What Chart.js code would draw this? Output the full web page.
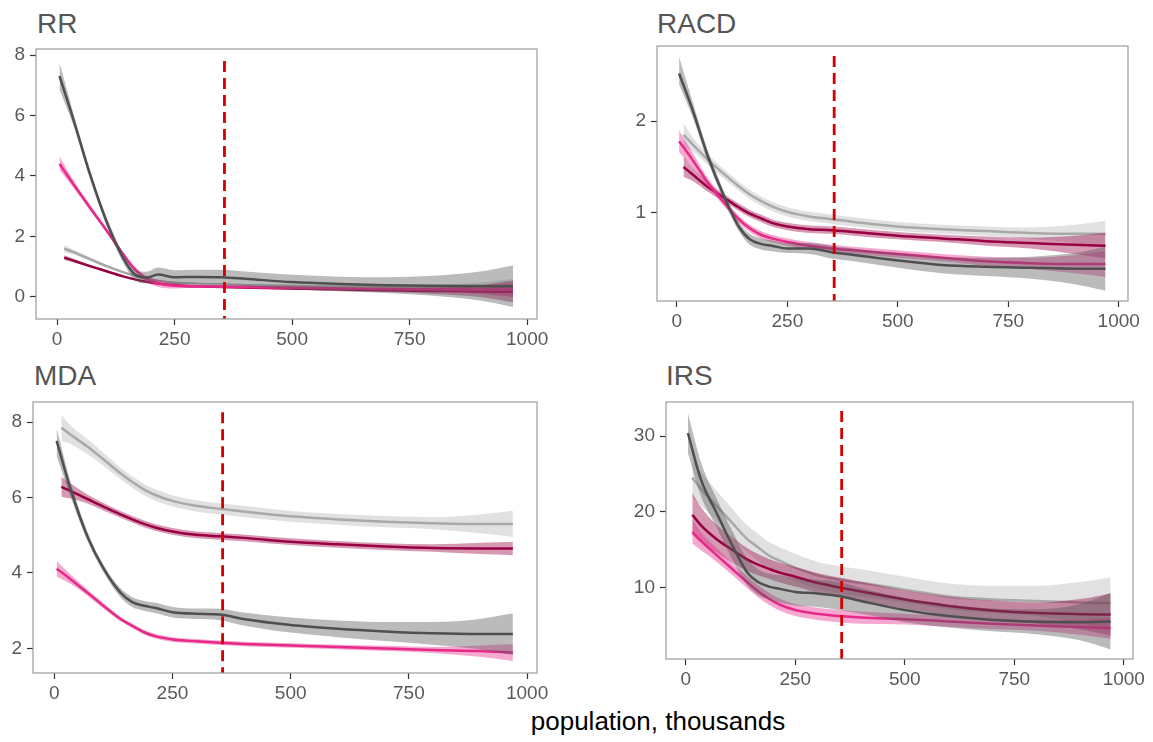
<!DOCTYPE html>
<html><head><meta charset="utf-8">
<script src="https://cdn.jsdelivr.net/npm/chart.js@4/dist/chart.umd.min.js"></script>
<style>
html,body{margin:0;padding:0;background:#fff;width:1153px;height:742px;overflow:hidden;position:relative;font-family:"Liberation Sans",Arial,sans-serif}
canvas{position:absolute}
.ttl{position:absolute;font-size:28px;line-height:28px;color:#555;white-space:nowrap}
#xlab{position:absolute;left:408px;width:500px;top:708px;text-align:center;font-size:26px;line-height:26px;color:#000}
</style></head><body>
<div class="ttl" style="left:37px;top:10px">RR</div>
<div class="ttl" style="left:657px;top:10px">RACD</div>
<div class="ttl" style="left:34px;top:362px">MDA</div>
<div class="ttl" style="left:666px;top:362px">IRS</div>
<div id="xlab">population, thousands</div>
<canvas id="c_rr"></canvas><canvas id="c_racd"></canvas><canvas id="c_mda"></canvas><canvas id="c_irs"></canvas>
<script>
// ---------- data ----------
const xTicks = [0, 250, 500, 750, 1000];
const cutoff = 356;
const xA = [5, 35, 70, 105, 140, 165, 190, 215, 250, 300, 350, 400, 500, 600, 700, 800, 900, 970];
const xB = [15, 35, 70, 105, 140, 165, 190, 215, 250, 300, 350, 400, 500, 600, 700, 800, 900, 970];

// RR
const rrYTicks = [0, 2, 4, 6, 8];
const rrDarkMean = [7.3, 5.85, 4.05, 2.5, 1.3, 0.75, 0.64, 0.74, 0.65, 0.66, 0.65, 0.6, 0.49, 0.43, 0.39, 0.37, 0.36, 0.35];
const rrDarkLo = [6.85, 5.65, 3.9, 2.35, 1.15, 0.57, 0.45, 0.52, 0.43, 0.43, 0.41, 0.36, 0.26, 0.19, 0.13, 0.04, -0.12, -0.33];
const rrDarkHi = [7.75, 6.05, 4.2, 2.65, 1.45, 0.9, 0.83, 0.97, 0.88, 0.9, 0.9, 0.84, 0.73, 0.67, 0.65, 0.7, 0.84, 1.04];
const rrPinkMean = [4.4, 3.72, 2.95, 2.2, 1.42, 0.92, 0.6, 0.45, 0.37, 0.35, 0.34, 0.33, 0.3, 0.28, 0.26, 0.25, 0.24, 0.23];
const rrPinkLo = [4.2, 3.6, 2.86, 2.12, 1.34, 0.83, 0.5, 0.33, 0.28, 0.3, 0.3, 0.29, 0.26, 0.24, 0.21, 0.17, 0.1, 0.0];
const rrPinkHi = [4.65, 3.85, 3.05, 2.28, 1.5, 1.01, 0.7, 0.57, 0.46, 0.4, 0.38, 0.37, 0.34, 0.32, 0.31, 0.33, 0.38, 0.46];
const rrMaroonMean = [1.3, 1.2, 1.02, 0.85, 0.68, 0.58, 0.5, 0.44, 0.39, 0.35, 0.33, 0.31, 0.28, 0.25, 0.22, 0.2, 0.18, 0.17];
const rrMaroonLo = [1.22, 1.14, 0.98, 0.82, 0.65, 0.55, 0.47, 0.41, 0.36, 0.32, 0.3, 0.28, 0.24, 0.2, 0.16, 0.1, 0.0, -0.18];
const rrMaroonHi = [1.38, 1.26, 1.06, 0.88, 0.71, 0.61, 0.53, 0.47, 0.42, 0.38, 0.36, 0.34, 0.32, 0.3, 0.28, 0.3, 0.38, 0.54];
const rrLightMean = [1.6, 1.48, 1.25, 1.02, 0.82, 0.7, 0.6, 0.53, 0.47, 0.43, 0.41, 0.39, 0.36, 0.34, 0.32, 0.31, 0.3, 0.3];
const rrLightLo = [1.48, 1.4, 1.19, 0.97, 0.78, 0.66, 0.56, 0.49, 0.43, 0.39, 0.37, 0.35, 0.32, 0.29, 0.26, 0.22, 0.12, 0.0];
const rrLightHi = [1.72, 1.56, 1.31, 1.07, 0.86, 0.74, 0.64, 0.57, 0.51, 0.47, 0.45, 0.43, 0.4, 0.39, 0.38, 0.4, 0.48, 0.6];

// RACD
const racdYTicks = [1, 2];
const racdDarkMean = [2.52, 2.13, 1.62, 1.2, 0.85, 0.71, 0.66, 0.64, 0.61, 0.61, 0.57, 0.54, 0.48, 0.43, 0.41, 0.4, 0.39, 0.39];
const racdDarkLo = [2.4, 2.05, 1.56, 1.15, 0.8, 0.65, 0.6, 0.58, 0.56, 0.55, 0.5, 0.47, 0.4, 0.34, 0.31, 0.28, 0.22, 0.15];
const racdDarkHi = [2.7, 2.22, 1.68, 1.25, 0.9, 0.77, 0.72, 0.7, 0.67, 0.67, 0.64, 0.61, 0.56, 0.52, 0.51, 0.52, 0.56, 0.63];
const racdPinkMean = [1.78, 1.58, 1.33, 1.12, 0.93, 0.83, 0.76, 0.72, 0.68, 0.64, 0.61, 0.59, 0.55, 0.51, 0.47, 0.45, 0.44, 0.44];
const racdPinkLo = [1.66, 1.5, 1.28, 1.08, 0.89, 0.79, 0.72, 0.68, 0.64, 0.6, 0.57, 0.55, 0.51, 0.47, 0.42, 0.39, 0.34, 0.3];
const racdPinkHi = [1.9, 1.66, 1.38, 1.16, 0.97, 0.87, 0.8, 0.76, 0.72, 0.68, 0.65, 0.63, 0.59, 0.55, 0.52, 0.51, 0.54, 0.58];
const racdMaroonMean = [1.5, 1.42, 1.28, 1.17, 1.06, 0.99, 0.94, 0.89, 0.85, 0.82, 0.81, 0.79, 0.75, 0.72, 0.69, 0.67, 0.65, 0.64];
const racdMaroonLo = [1.39, 1.35, 1.23, 1.13, 1.02, 0.95, 0.9, 0.85, 0.81, 0.78, 0.77, 0.75, 0.71, 0.68, 0.64, 0.61, 0.55, 0.5];
const racdMaroonHi = [1.62, 1.5, 1.33, 1.21, 1.1, 1.03, 0.98, 0.93, 0.89, 0.86, 0.85, 0.83, 0.79, 0.76, 0.74, 0.73, 0.75, 0.78];
const racdLightMean = [1.85, 1.75, 1.58, 1.43, 1.29, 1.2, 1.13, 1.07, 1.01, 0.96, 0.93, 0.9, 0.85, 0.82, 0.8, 0.78, 0.77, 0.77];
const racdLightLo = [1.72, 1.67, 1.52, 1.38, 1.24, 1.15, 1.08, 1.02, 0.96, 0.91, 0.88, 0.85, 0.8, 0.77, 0.75, 0.72, 0.67, 0.63];
const racdLightHi = [1.98, 1.83, 1.64, 1.48, 1.34, 1.25, 1.18, 1.12, 1.06, 1.01, 0.98, 0.95, 0.9, 0.87, 0.85, 0.84, 0.87, 0.91];

// MDA
const mdaYTicks = [2, 4, 6, 8];
const mdaDarkMean = [7.5, 6.2, 4.97, 4.1, 3.48, 3.23, 3.13, 3.07, 2.96, 2.92, 2.9, 2.78, 2.62, 2.52, 2.45, 2.4, 2.38, 2.38];
const mdaDarkLo = [7.1, 6.0, 4.85, 4.0, 3.36, 3.1, 3.0, 2.93, 2.82, 2.78, 2.75, 2.61, 2.42, 2.3, 2.2, 2.1, 1.98, 1.83];
const mdaDarkHi = [7.85, 6.4, 5.1, 4.2, 3.6, 3.36, 3.26, 3.21, 3.1, 3.06, 3.05, 2.95, 2.82, 2.74, 2.7, 2.7, 2.78, 2.93];
const mdaPinkMean = [4.11, 3.83, 3.48, 3.12, 2.78, 2.6, 2.43, 2.32, 2.24, 2.19, 2.15, 2.12, 2.08, 2.04, 2.0, 1.96, 1.93, 1.89];
const mdaPinkLo = [3.9, 3.71, 3.4, 3.05, 2.72, 2.54, 2.37, 2.26, 2.18, 2.13, 2.09, 2.06, 2.02, 1.98, 1.93, 1.88, 1.78, 1.67];
const mdaPinkHi = [4.32, 3.95, 3.56, 3.19, 2.84, 2.66, 2.49, 2.38, 2.3, 2.25, 2.21, 2.18, 2.14, 2.1, 2.07, 2.04, 2.08, 2.11];
const mdaMaroonMean = [6.28, 6.17, 5.96, 5.75, 5.55, 5.42, 5.3, 5.2, 5.1, 5.01, 4.97, 4.93, 4.83, 4.76, 4.7, 4.66, 4.65, 4.65];
const mdaMaroonLo = [6.02, 5.97, 5.84, 5.65, 5.46, 5.33, 5.21, 5.11, 5.01, 4.92, 4.88, 4.84, 4.74, 4.67, 4.61, 4.56, 4.5, 4.47];
const mdaMaroonHi = [6.55, 6.37, 6.08, 5.85, 5.64, 5.51, 5.39, 5.29, 5.19, 5.1, 5.06, 5.02, 4.92, 4.85, 4.79, 4.76, 4.8, 4.83];
const mdaLightMean = [7.85, 7.66, 7.35, 7.0, 6.64, 6.41, 6.21, 6.06, 5.91, 5.78, 5.7, 5.63, 5.5, 5.42, 5.36, 5.32, 5.3, 5.3];
const mdaLightLo = [7.5, 7.42, 7.15, 6.83, 6.49, 6.26, 6.06, 5.91, 5.76, 5.63, 5.55, 5.48, 5.36, 5.28, 5.21, 5.16, 5.05, 4.95];
const mdaLightHi = [8.2, 7.9, 7.55, 7.17, 6.79, 6.56, 6.36, 6.21, 6.06, 5.93, 5.85, 5.78, 5.64, 5.56, 5.51, 5.48, 5.55, 5.65];

// IRS
const irsYTicks = [10, 20, 30];
const irsDarkMean = [30.4, 24.2, 19.9, 15.7, 12.0, 10.7, 10.1, 9.8, 9.4, 9.2, 8.85, 8.2, 7.0, 6.2, 5.7, 5.45, 5.4, 5.5];
const irsDarkLo = [27.8, 22.0, 18.0, 13.8, 10.3, 9.0, 8.4, 8.0, 7.6, 7.4, 7.0, 6.5, 5.4, 4.7, 4.2, 3.8, 3.0, 1.8];
const irsDarkHi = [33.0, 26.5, 21.8, 17.6, 13.8, 12.4, 11.8, 11.6, 11.2, 11.0, 10.7, 9.9, 8.6, 7.7, 7.2, 7.1, 7.8, 9.3];
const irsPinkMean = [17.3, 16.1, 14.3, 12.5, 10.7, 9.5, 8.5, 7.7, 7.0, 6.5, 6.2, 6.0, 5.8, 5.5, 5.2, 4.95, 4.75, 4.6];
const irsPinkLo = [15.8, 14.9, 13.4, 11.7, 9.9, 8.7, 7.7, 6.9, 6.2, 5.7, 5.4, 5.2, 5.1, 4.8, 4.5, 4.25, 3.75, 3.2];
const irsPinkHi = [19.0, 17.3, 15.2, 13.3, 11.5, 10.3, 9.3, 8.5, 7.8, 7.3, 7.0, 6.8, 6.5, 6.2, 5.9, 5.65, 5.75, 6.0];
const irsMaroonMean = [19.6, 18.2, 16.4, 15.0, 13.7, 13.0, 12.45, 11.95, 11.4, 10.6, 10.0, 9.45, 8.4, 7.55, 6.95, 6.6, 6.45, 6.4];
const irsMaroonLo = [17.0, 16.0, 14.6, 13.3, 12.2, 11.6, 11.15, 10.65, 10.1, 9.3, 8.7, 8.15, 7.2, 6.35, 5.65, 5.2, 4.45, 3.6];
const irsMaroonHi = [22.5, 20.6, 18.3, 16.7, 15.2, 14.4, 13.75, 13.25, 12.7, 11.9, 11.3, 10.75, 9.6, 8.75, 8.25, 8.0, 8.45, 9.2];
const irsLightMean = [24.5, 23.0, 20.8, 18.6, 16.4, 15.3, 14.2, 13.5, 12.6, 11.6, 11.0, 10.6, 9.7, 8.8, 8.4, 8.2, 8.0, 7.9];
const irsLightLo = [22.0, 20.8, 18.8, 16.7, 14.6, 13.5, 12.4, 11.7, 10.8, 9.8, 9.2, 8.8, 8.0, 7.1, 6.6, 6.2, 5.3, 4.5];
const irsLightHi = [27.0, 25.2, 22.8, 20.5, 18.2, 17.1, 16.0, 15.3, 14.4, 13.4, 12.8, 12.4, 11.4, 10.5, 10.2, 10.2, 10.7, 11.3];

// top of the cutoff line in each panel (RR, RACD, MDA, IRS)
const cutoffTop = [7.8, 2.71, 8.26, 33.3];

// ---------- styling / layout ----------
const COL = {
  dark:   {line: '#4f4f4f', fill: 'rgba(85,85,85,0.4)'},
  pink:   {line: '#e7298a', fill: 'rgba(231,41,138,0.4)'},
  maroon: {line: '#980043', fill: 'rgba(152,0,67,0.4)'},
  light:  {line: '#a9a9a9', fill: 'rgba(180,180,180,0.4)'}
};
const PAD_TOP = 20, PAD_RIGHT = 25, XAX_H = 42;
const X_RANGE = [-45, 1021];

const panels = [
  {cv: 'c_rr', area: [36, 49, 537, 319], yAxisW: 36, yRange: [-0.73, 8.2], yTicks: rrYTicks, top: cutoffTop[0],
   series: [
     ['dark', xA, rrDarkMean, rrDarkLo, rrDarkHi],
     ['pink', xA, rrPinkMean, rrPinkLo, rrPinkHi],
     ['maroon', xB, rrMaroonMean, rrMaroonLo, rrMaroonHi],
     ['light', xB, rrLightMean, rrLightLo, rrLightHi]]},
  {cv: 'c_racd', area: [657, 46, 1128, 301], yAxisW: 60, yRange: [0.037, 2.82], yTicks: racdYTicks, top: cutoffTop[1],
   series: [
     ['dark', xA, racdDarkMean, racdDarkLo, racdDarkHi],
     ['pink', xA, racdPinkMean, racdPinkLo, racdPinkHi],
     ['maroon', xB, racdMaroonMean, racdMaroonLo, racdMaroonHi],
     ['light', xB, racdLightMean, racdLightLo, racdLightHi]]},
  {cv: 'c_mda', area: [33, 402, 537, 673], yAxisW: 33, yRange: [1.35, 8.53], yTicks: mdaYTicks, top: cutoffTop[2],
   series: [
     ['dark', xA, mdaDarkMean, mdaDarkLo, mdaDarkHi],
     ['pink', xA, mdaPinkMean, mdaPinkLo, mdaPinkHi],
     ['maroon', xB, mdaMaroonMean, mdaMaroonLo, mdaMaroonHi],
     ['light', xB, mdaLightMean, mdaLightLo, mdaLightHi]]},
  {cv: 'c_irs', area: [666, 402, 1133, 659], yAxisW: 60, yRange: [0.53, 34.5], yTicks: irsYTicks, top: cutoffTop[3],
   series: [
     ['dark', xA, irsDarkMean, irsDarkLo, irsDarkHi],
     ['pink', xB, irsPinkMean, irsPinkLo, irsPinkHi],
     ['maroon', xB, irsMaroonMean, irsMaroonLo, irsMaroonHi],
     ['light', xB, irsLightMean, irsLightLo, irsLightHi]]}
];

const borderPlugin = {
  id: 'panelBorder',
  afterDatasetsDraw(chart) {
    const {ctx, chartArea: a} = chart;
    ctx.save();
    ctx.strokeStyle = '#9b9b9b';
    ctx.lineWidth = 1.2;
    ctx.strokeRect(a.left, a.top, a.right - a.left, a.bottom - a.top);
    ctx.restore();
  }
};

const pts = (xs, ys) => xs.map((x, i) => ({x: x, y: ys[i]}));
const tickFont = {family: 'Liberation Sans', size: 19};

panels.forEach(p => {
  const [l, t, r, b] = p.area;
  const cv = document.getElementById(p.cv);
  const w = p.yAxisW + (r - l) + PAD_RIGHT;
  const h = PAD_TOP + (b - t) + XAX_H;
  cv.width = w; cv.height = h;
  cv.style.left = (l - p.yAxisW) + 'px';
  cv.style.top = (t - PAD_TOP) + 'px';
  cv.style.width = w + 'px'; cv.style.height = h + 'px';

  const ds = [];
  ds.push({
    data: [{x: cutoff, y: p.top}, {x: cutoff, y: p.yRange[0]}],
    borderColor: '#d40000', borderWidth: 2.8, borderDash: [11, 6],
    pointRadius: 0, fill: false, tension: 0
  });
  p.series.forEach(([c, xs, m, lo, hi]) => {
    ds.push({data: pts(xs, m), borderColor: COL[c].line, borderWidth: 2.5, pointRadius: 0,
             fill: false, cubicInterpolationMode: 'monotone'});
    ds.push({data: pts(xs, hi), borderWidth: 0, borderColor: 'rgba(0,0,0,0)', pointRadius: 0,
             backgroundColor: COL[c].fill, fill: '+1', cubicInterpolationMode: 'monotone'});
    ds.push({data: pts(xs, lo), borderWidth: 0, borderColor: 'rgba(0,0,0,0)', pointRadius: 0,
             fill: false, cubicInterpolationMode: 'monotone'});
  });

  new Chart(cv, {
    type: 'line',
    data: {datasets: ds},
    plugins: [borderPlugin],
    options: {
      responsive: false, animation: false, devicePixelRatio: 1,
      layout: {padding: {top: PAD_TOP, right: PAD_RIGHT, left: 0, bottom: 0}},
      plugins: {legend: {display: false}, tooltip: {enabled: false}},
      events: [],
      scales: {
        x: {
          type: 'linear', min: X_RANGE[0], max: X_RANGE[1],
          afterBuildTicks: s => { s.ticks = xTicks.map(v => ({value: v})); },
          afterFit: s => { s.height = XAX_H; },
          grid: {display: true, drawOnChartArea: false, drawTicks: true, tickLength: 6, tickColor: '#333', tickWidth: 1.2},
          border: {display: false},
          ticks: {font: tickFont, color: '#5a5a5a', padding: 3, maxRotation: 0, callback: v => String(v)}
        },
        y: {
          type: 'linear', min: p.yRange[0], max: p.yRange[1],
          afterBuildTicks: s => { s.ticks = p.yTicks.map(v => ({value: v})); },
          afterFit: s => { s.width = p.yAxisW; },
          grid: {display: true, drawOnChartArea: false, drawTicks: true, tickLength: 6, tickColor: '#333', tickWidth: 1.2},
          border: {display: false},
          ticks: {font: tickFont, color: '#5a5a5a', padding: 5, callback: v => String(v)}
        }
      }
    }
  });
});
</script>
</body></html>
